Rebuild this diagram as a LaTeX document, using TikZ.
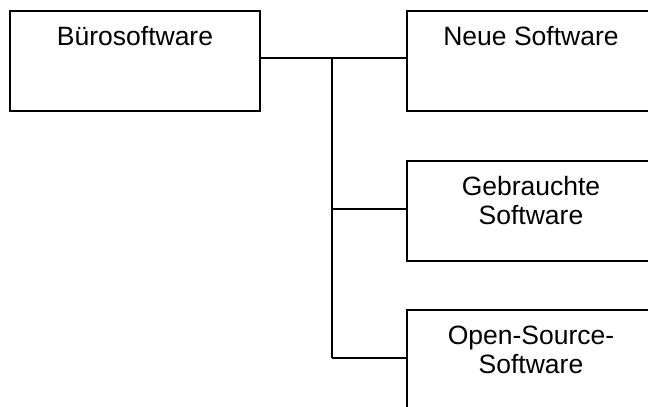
\documentclass[tikz,border=0pt]{standalone}
\usepackage{fontspec}
\setmainfont{Liberation Sans}
\begin{document}
\begin{tikzpicture}[x=1pt,y=-1pt,
  box/.style={draw=black,line width=1.6pt,minimum width=250pt,minimum height=100pt,inner sep=0pt,outer sep=0pt},
  txt/.style={anchor=base,inner sep=0pt,align=center,font=\fontsize{26.5pt}{28.3pt}\selectfont},
  link/.style={draw=black,line width=1.5pt}]
  \useasboundingbox (0,0) rectangle (648,407);
  \clip (0,0) rectangle (648,407);
  \fill[white] (0,0) rectangle (648,407);
  % boxes
  \node[box] (b1) at (135,60.8) {};
  \node[box] (b2) at (532,60.8) {};
  \node[box] (b3) at (532,210.8) {};
  \node[box] (b4) at (532,359.8) {};
  % labels (base anchor sits on the last line's baseline)
  \node[txt] (l1) at (135,45.7) {Bürosoftware};
  \node[txt] (l2) at (531,45.7) {Neue Software};
  \node[txt] (l3) at (531,224) {Gebrauchte\\Software};
  \node[txt] (l4) at (531,373) {Open-Source-\\Software};
  % tree connectors
  \coordinate (t1) at (332,58);
  \coordinate (t2) at (332,209);
  \coordinate (t3) at (332,358);
  \draw[link] (b1.east |- t1) -- (b2.west |- t1);
  \draw[link] (t1) -- (t3);
  \draw[link] (t2) -- (b3.west |- t2);
  \draw[link] (t3) -- (b4.west |- t3);
\end{tikzpicture}
\end{document}
